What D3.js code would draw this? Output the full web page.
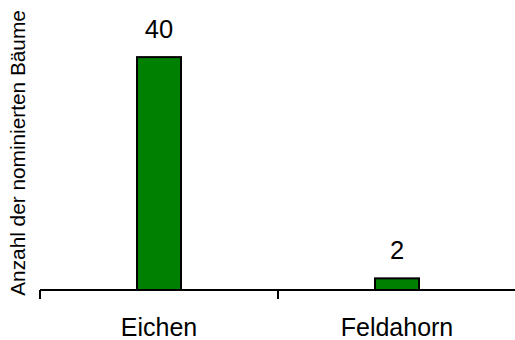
<!DOCTYPE html>
<html>
<head>
<meta charset="utf-8">
<script src="https://cdn.jsdelivr.net/npm/d3@7"></script>
<style>
  html, body { margin: 0; padding: 0; background: #fff; }
  svg { display: block; font-family: "Liberation Sans", Arial, sans-serif; }
</style>
</head>
<body>
<svg id="chart" width="515" height="340"></svg>
<script>
// Nominated trees per species
const categories = ["Eichen", "Feldahorn"];
const counts = [40, 2];
const yTitle = "Anzahl der nominierten Bäume";

const svg = d3.select("#chart");
const left = 40, right = 516, baseY = 290;

const x = d3.scaleBand().domain(categories).range([left, right]).paddingInner(0).paddingOuter(0);
const y = d3.scaleLinear().domain([0, 45]).range([baseY, 28]);

const barW = 44;

// Bars
svg.selectAll("rect.bar")
  .data(categories)
  .join("rect")
  .attr("class", "bar")
  .attr("x", d => x(d) + x.bandwidth() / 2 - barW / 2)
  .attr("y", (d, i) => y(counts[i]))
  .attr("width", barW)
  .attr("height", (d, i) => y(0) - y(counts[i]))
  .attr("fill", "#008000")
  .attr("stroke", "#000")
  .attr("stroke-width", 2);

// Value labels above bars
svg.selectAll("text.val")
  .data(categories)
  .join("text")
  .attr("class", "val")
  .attr("x", d => x(d) + x.bandwidth() / 2)
  .attr("y", (d, i) => y(counts[i]) - 19)
  .attr("text-anchor", "middle")
  .attr("font-size", 25.5)
  .attr("fill", "#000")
  .text((d, i) => counts[i]);

// Category axis with ticks at band boundaries
const axisG = svg.append("g");
axisG.append("line")
  .attr("x1", left).attr("x2", right)
  .attr("y1", baseY).attr("y2", baseY)
  .attr("stroke", "#000").attr("stroke-width", 2);
const tickPos = categories.map(d => x(d));
axisG.selectAll("line.tick")
  .data(tickPos)
  .join("line")
  .attr("class", "tick")
  .attr("x1", d => d).attr("x2", d => d)
  .attr("y1", baseY).attr("y2", baseY + 9)
  .attr("stroke", "#000").attr("stroke-width", 2);

svg.selectAll("text.cat")
  .data(categories)
  .join("text")
  .attr("class", "cat")
  .attr("x", d => x(d) + x.bandwidth() / 2)
  .attr("y", 335.5)
  .attr("text-anchor", "middle")
  .attr("font-size", 25)
  .attr("fill", "#000")
  .text(d => d);

// Y-axis title
svg.append("text")
  .attr("transform", "translate(25,153) rotate(-90)")
  .attr("text-anchor", "middle")
  .attr("font-size", 20.8)
  .attr("fill", "#000")
  .text(yTitle);
</script>
</body>
</html>
